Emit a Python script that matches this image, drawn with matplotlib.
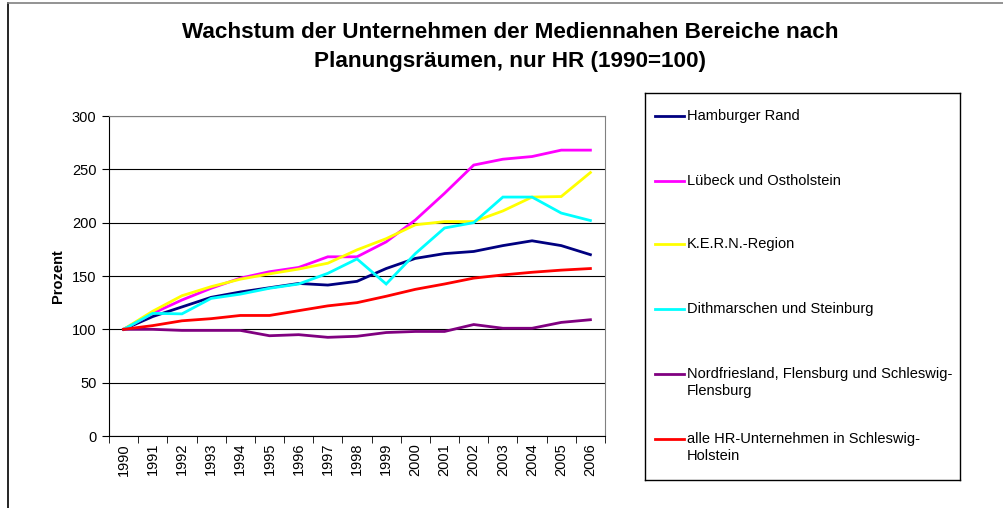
import numpy as np
import matplotlib
matplotlib.use("Agg")
from matplotlib import pyplot as plt
from matplotlib.lines import Line2D

plt.rcParams['font.family'] = ['Liberation Sans', 'DejaVu Sans']

# Jahre und Indexwerte (1990 = 100)
jahre = [str(j) for j in range(1990, 2007)]

hamburger_rand = [100, 112, 121, 130, 135, 139, 143, 141.5, 145, 157, 166.5, 171, 173, 178.5, 183, 178.5, 170]
luebeck = [100, 115, 127.5, 138.5, 148, 154, 158, 168, 168, 182, 202.5, 227.5, 254, 259.5, 262, 268, 268]
kern = [100, 117, 131.5, 140, 147, 152, 156.5, 162, 174.5, 185, 198, 201, 201, 211, 224, 224.5, 247]
dithmarschen = [100, 115, 114.5, 129, 133, 138.5, 142.5, 152.5, 166, 142.5, 171, 195, 200, 224, 224, 209, 202]
nordfriesland = [100, 100, 99, 99, 99, 94, 95, 92.5, 93.5, 97, 98, 98, 104.5, 101, 101, 106.5, 109]
alle_hr = [100, 103.5, 108, 110, 113, 113, 117.5, 122, 125, 131, 137.5, 142.5, 148, 151, 153.5, 155.5, 157]

reihen = [hamburger_rand, luebeck, kern, dithmarschen, nordfriesland, alle_hr]
namen = ["Hamburger Rand", "Lübeck und Ostholstein", "K.E.R.N.-Region",
         "Dithmarschen und Steinburg",
         "Nordfriesland, Flensburg und Schleswig-\nFlensburg",
         "alle HR-Unternehmen in Schleswig-\nHolstein"]
farben = ["#000080", "#FF00FF", "#FFFF00", "#00FFFF", "#800080", "#FF0000"]

W, H = 1004, 508
fig = plt.figure(figsize=(W / 100, H / 100), dpi=100)

def px_axes(x0, y0, x1, y1):
    # Achsen über Pixelkoordinaten (oben links = 0,0)
    return fig.add_axes([x0 / W, 1 - y1 / H, (x1 - x0) / W, (y1 - y0) / H])

# Rahmen um das ganze Diagramm (links schwarz, oben grau)
fig.add_artist(Line2D([8 / W, 8 / W], [0, 1 - 3 / H], transform=fig.transFigure,
                      color="black", linewidth=1.2))
fig.add_artist(Line2D([8 / W, 1], [1 - 3 / H, 1 - 3 / H], transform=fig.transFigure,
                      color="#808080", linewidth=1.2))

fig.text(510 / W, 1 - 32 / H, "Wachstum der Unternehmen der Mediennahen Bereiche nach",
         ha="center", va="center", fontsize=16.2, fontweight="bold")
fig.text(510 / W, 1 - 62 / H, "Planungsräumen, nur HR (1990=100)",
         ha="center", va="center", fontsize=16.2, fontweight="bold")

ax = px_axes(109, 116, 605, 436)
x = np.arange(len(jahre))
for werte, farbe in zip(reihen, farben):
    ax.plot(x, werte, color=farbe, linewidth=2, solid_joinstyle="miter", zorder=3)

ax.set_xlim(-0.5, len(jahre) - 0.5)
ax.set_ylim(0, 300)
ax.set_yticks(np.arange(0, 301, 50))
ax.yaxis.grid(True, color="black", linewidth=0.8)
ax.set_axisbelow(True)
ax.set_xticks(x)
ax.set_xticklabels(jahre, rotation=90, fontsize=10.5)
ax.set_xticks(np.arange(-0.5, len(jahre)), minor=True)
ax.tick_params(axis="x", which="major", length=0, pad=5)
ax.tick_params(axis="x", which="minor", length=5, direction="out", color="black")
ax.tick_params(axis="y", length=5, direction="out", labelsize=10.5, pad=4)
ax.set_ylabel("Prozent", fontsize=10.5, fontweight="bold", labelpad=5)
for s in ["left", "bottom"]:
    ax.spines[s].set_color("black")
for s in ["top", "right"]:
    ax.spines[s].set_color("#808080")

# Legende als eigener Kasten
lg = px_axes(645, 93, 960, 480)
lg.set_xlim(645, 960)
lg.set_ylim(480, 93)
lg.set_xticks([])
lg.set_yticks([])
for s in lg.spines.values():
    s.set_color("black")
    s.set_linewidth(1)
eintrag_y = [116, 181, 244, 309, 374, 439]
for yy, name, farbe in zip(eintrag_y, namen, farben):
    lg.plot([655, 684], [yy, yy], color=farbe, linewidth=2)
    lg.text(687, yy - 7, name, fontsize=10.5, va="top", ha="left", linespacing=1.25)

fig.savefig("out.png", dpi=100)
